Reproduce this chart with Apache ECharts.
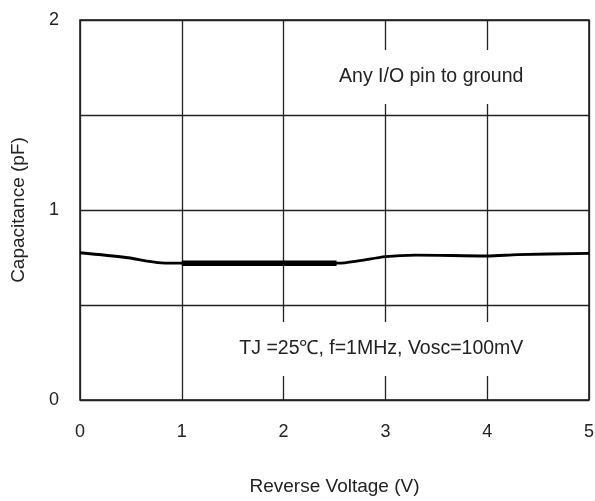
<!DOCTYPE html>
<html>
<head>
<meta charset="utf-8">
<script src="https://cdn.jsdelivr.net/npm/echarts@6/dist/echarts.min.js"></script>
<style>
    html, body { margin: 0; padding: 0; background: #fff; }
    #chart { width: 595px; height: 501px; }
</style>
</head>
<body>
<div id="chart"></div>
<script>
    // values
    let voltage = [0, 0.45, 0.8, 1, 1.5, 2, 2.52, 2.6, 2.75, 3, 3.3, 4, 4.3, 5]
    let capacitance = [0.775, 0.75, 0.722, 0.72, 0.72, 0.72, 0.72, 0.722, 0.733, 0.755, 0.763, 0.758, 0.765, 0.772]
    // heavier stretch of the trace
    let boldVoltage = [1, 2.52]
    let boldCapacitance = [0.72, 0.72]
    let xTicks = [0, 1, 2, 3, 4, 5]
    let yTicks = [0, 1, 2]
    let noteTop = 'Any I/O pin to ground'
    let noteBottom = 'TJ =25\u2103, f=1MHz, Vosc=100mV'

    let textColor = '#222'
    let fontFamily = '"Liberation Sans", Arial, sans-serif'
    let fontSize = 18
    let nameSize = 19
    let noteSize = 19.5

    let chart = echarts.init(document.getElementById('chart'))

    const options = {
        animation: false,
        grid: {
            left: 80,
            top: 20,
            width: 509,
            height: 380,
            outerBoundsMode: 'none',
            containLabel: false,
            show: true,
            borderColor: '#111',
            borderWidth: 1.5,
            backgroundColor: '#fff'
        },
        xAxis: {
            type: 'value',
            min: 0,
            max: 5,
            interval: 1,
            name: 'Reverse Voltage (V)',
            nameLocation: 'middle',
            nameGap: 77,
            nameTextStyle: { color: textColor, fontSize: nameSize, fontFamily: fontFamily },
            axisLine: { show: false },
            axisTick: { show: false },
            axisLabel: {
                margin: 23,
                color: textColor,
                fontSize: fontSize,
                fontFamily: fontFamily,
                formatter: function (v) {
                    return xTicks.indexOf(v) >= 0 ? String(v) : ''
                }
            },
            splitLine: { show: true, lineStyle: { color: '#222', width: 1.3 } }
        },
        yAxis: {
            type: 'value',
            min: 0,
            max: 2,
            interval: 0.5,
            name: 'Capacitance (pF)',
            nameLocation: 'middle',
            nameGap: 52,
            nameTextStyle: { color: textColor, fontSize: nameSize, fontFamily: fontFamily },
            axisLine: { show: false },
            axisTick: { show: false },
            axisLabel: {
                margin: 21,
                color: textColor,
                fontSize: fontSize,
                fontFamily: fontFamily,
                formatter: function (v) {
                    return yTicks.indexOf(v) >= 0 ? String(v) : ''
                }
            },
            splitLine: { show: true, lineStyle: { color: '#222', width: 1.3 } }
        },
        series: [
            {
                type: 'line',
                data: voltage.map((v, i) => [v, capacitance[i]]),
                showSymbol: false,
                smooth: 0.3,
                lineStyle: { color: '#000', width: 2.8 },
                z: 3
            },
            {
                type: 'line',
                data: boldVoltage.map((v, i) => [v, boldCapacitance[i]]),
                showSymbol: false,
                lineStyle: { color: '#000', width: 5.5 },
                z: 4
            }
        ]
    }
    chart.setOption(options)

    // notes sit on white boxes that cut the grid lines
    let topPos = chart.convertToPixel({ gridIndex: 0 }, [3.45, 1.7])
    let bottomPos = chart.convertToPixel({ gridIndex: 0 }, [2.96, 0.268])
    let noteStyle = {
        fill: textColor,
        font: noteSize + 'px ' + fontFamily,
        align: 'center',
        verticalAlign: 'middle',
        backgroundColor: '#fff',
        padding: [17, 4, 17, 4]
    }
    chart.setOption({
        graphic: [
            {
                type: 'text',
                x: topPos[0],
                y: topPos[1],
                z: 10,
                style: Object.assign({ text: noteTop }, noteStyle)
            },
            {
                type: 'text',
                x: bottomPos[0],
                y: bottomPos[1],
                z: 10,
                style: Object.assign({ text: noteBottom }, noteStyle)
            }
        ]
    })
</script>
</body>
</html>
